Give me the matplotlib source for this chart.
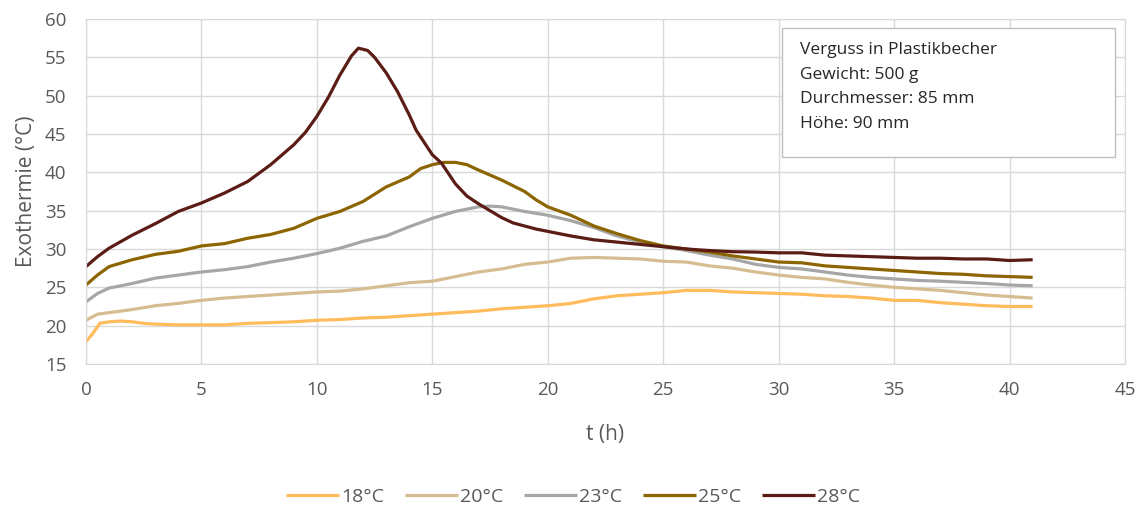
import matplotlib
matplotlib.use("Agg")
import matplotlib.pyplot as plt
from matplotlib.patches import Rectangle

# --- data ---
t18 = [0, 0.3, 0.6, 1, 1.5, 2, 2.5, 3, 4, 5, 6, 7, 8, 9, 10, 11, 12, 13, 14, 15, 16, 17, 18, 19, 20,
       21, 22, 23, 24, 25, 26, 27, 28, 29, 30, 31, 32, 33, 34, 35, 36, 37, 38, 39, 40, 41]
v18 = [17.9, 19.0, 20.3, 20.5, 20.6, 20.5, 20.3, 20.2, 20.1, 20.1, 20.1, 20.3, 20.4, 20.5, 20.7, 20.8,
       21.0, 21.1, 21.3, 21.5, 21.7, 21.9, 22.2, 22.4, 22.6, 22.9, 23.5, 23.9, 24.1, 24.3, 24.6, 24.6,
       24.4, 24.3, 24.2, 24.1, 23.9, 23.8, 23.6, 23.3, 23.3, 23.0, 22.8, 22.6, 22.5, 22.5]

t20 = [0, 0.5, 1, 2, 3, 4, 5, 6, 7, 8, 9, 10, 11, 12, 13, 14, 15, 16, 17, 18, 19, 20,
       21, 22, 23, 24, 25, 26, 27, 28, 29, 30, 31, 32, 33, 34, 35, 36, 37, 38, 39, 40, 41]
v20 = [20.7, 21.5, 21.7, 22.1, 22.6, 22.9, 23.3, 23.6, 23.8, 24.0, 24.2, 24.4, 24.5, 24.8, 25.2, 25.6,
       25.8, 26.4, 27.0, 27.4, 28.0, 28.3, 28.8, 28.9, 28.8, 28.7, 28.4, 28.3, 27.8, 27.5, 27.0, 26.6,
       26.3, 26.1, 25.65, 25.3, 25.0, 24.8, 24.6, 24.3, 24.0, 23.8, 23.6]

t23 = [0, 0.5, 1, 2, 3, 4, 5, 6, 7, 8, 9, 10, 11, 12, 13, 14, 15, 16, 17, 17.5, 18, 19, 20,
       21, 22, 23, 24, 25, 26, 27, 28, 29, 30, 31, 32, 33, 34, 35, 36, 37, 38, 39, 40, 41]
v23 = [23.1, 24.2, 24.9, 25.5, 26.2, 26.6, 27.0, 27.3, 27.7, 28.3, 28.8, 29.4, 30.1, 31.0, 31.7, 32.9,
       34.0, 34.9, 35.5, 35.6, 35.5, 34.9, 34.4, 33.7, 32.8, 31.7, 30.9, 30.3, 29.8, 29.2, 28.7, 28.0,
       27.6, 27.4, 27.0, 26.6, 26.3, 26.1, 25.9, 25.8, 25.65, 25.5, 25.3, 25.2]

t25 = [0, 0.5, 1, 2, 3, 4, 5, 6, 7, 8, 9, 10, 11, 12, 13, 14, 14.5, 15, 15.5, 16, 16.5, 17, 18, 19,
       19.5, 20, 21, 22, 23, 24, 25, 26, 27, 28, 29, 30, 31, 32, 33, 34, 35, 36, 37, 38, 39, 40, 41]
v25 = [25.3, 26.6, 27.7, 28.6, 29.3, 29.7, 30.4, 30.7, 31.4, 31.9, 32.7, 34.0, 34.9, 36.2, 38.1, 39.4,
       40.5, 41.0, 41.3, 41.3, 41.0, 40.3, 39.0, 37.5, 36.4, 35.5, 34.4, 33.0, 32.0, 31.1, 30.4, 30.0,
       29.6, 29.1, 28.7, 28.3, 28.2, 27.8, 27.6, 27.4, 27.2, 27.0, 26.8, 26.7, 26.5, 26.4, 26.3]

t28 = [0, 0.5, 1, 2, 3, 4, 5, 6, 7, 8, 9, 9.5, 10, 10.5, 11, 11.5, 11.8, 12.2, 12.5, 13, 13.5, 14,
       14.3, 15, 15.4, 16, 16.5, 17, 17.5, 18, 18.5, 19, 19.5, 20, 21, 22, 23, 24, 25, 26, 27, 28,
       29, 30, 31, 32, 33, 34, 35, 36, 37, 38, 39, 40, 41]
v28 = [27.7, 29.0, 30.1, 31.8, 33.3, 34.9, 36.0, 37.3, 38.8, 41.0, 43.6, 45.2, 47.3, 49.8, 52.7, 55.2,
       56.2, 55.9, 55.0, 53.0, 50.5, 47.5, 45.5, 42.3, 41.2, 38.5, 36.9, 35.9, 35.0, 34.1, 33.4, 33.0,
       32.6, 32.3, 31.7, 31.2, 30.9, 30.6, 30.3, 30.0, 29.8, 29.65, 29.6, 29.5, 29.5, 29.2, 29.1, 29.0,
       28.9, 28.8, 28.8, 28.7, 28.7, 28.5, 28.6]

labels = ["18°C", "20°C", "23°C", "25°C", "28°C"]
colors = ["#FFBB5C", "#D7BC91", "#A6A6A6", "#8C6500", "#5A1C14"]
info_lines = ["Verguss in Plastikbecher", "Gewicht: 500 g", "Durchmesser: 85 mm", "Höhe: 90 mm"]

plt.rcParams['font.family'] = ['Open Sans', 'DejaVu Sans']

fig = plt.figure(figsize=(11.46, 5.08), dpi=100)
ax = fig.add_axes([0.075, 0.2835, 0.9067, 0.679])

series = [(t18, v18), (t20, v20), (t23, v23), (t25, v25), (t28, v28)]
for (t, v), lab, col in zip(series, labels, colors):
    ax.plot(t, v, color=col, lw=2.3, label=lab, solid_capstyle='butt')

ax.set_xlim(0, 45)
ax.set_ylim(15, 60)
ax.set_xticks(range(0, 46, 5))
ax.set_yticks(range(15, 61, 5))
ax.grid(True, color='#D9D9D9', lw=1)
ax.set_axisbelow(True)
for s in ax.spines.values():
    s.set_color('#D9D9D9')
ax.tick_params(length=0, labelsize=13.5, colors='#595959')
ax.tick_params(axis='x', pad=12)
ax.tick_params(axis='y', pad=14)
ax.set_xlabel("t (h)", fontsize=15, color='#595959', labelpad=18)
ax.set_ylabel("Exothermie (°C)", fontsize=15, color='#595959', labelpad=6)

# info box
ax.add_patch(Rectangle((0.670, 0.600), 0.320, 0.374, transform=ax.transAxes,
                       facecolor='white', edgecolor='#BFBFBF', lw=1, zorder=5))
for i, line in enumerate(info_lines):
    ax.text(0.687, 0.910 - i * 0.0715, line, transform=ax.transAxes, fontsize=12.5,
            color='#262626', va='center', ha='left', zorder=6)

fig.legend(loc='center', bbox_to_anchor=(0.5, 0.022), ncol=5, frameon=False,
           fontsize=14, labelcolor='#595959', handlelength=2.7, handletextpad=0.1,
           columnspacing=1.1)

fig.savefig("out.png", dpi=100)
plt.close(fig)
